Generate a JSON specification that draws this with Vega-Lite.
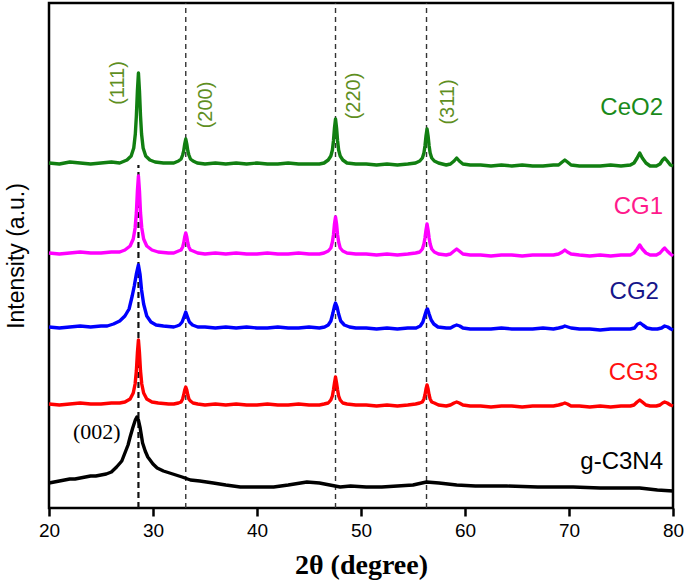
{
"$schema": "https://vega.github.io/schema/vega-lite/v6.json",
"width": 624, "height": 505,
"autosize": {"type": "none"},
"padding": {"left": 49, "top": 3, "right": 12, "bottom": 78},
"config": {"view": {"stroke": "#000", "strokeWidth": 2.5}, "font": "Liberation Sans"},
"datasets": {
"thin": [{"x":33.15,"y0":0,"y1":505},{"x":47.55,"y0":0,"y1":505},{"x":56.3,"y0":0,"y1":505}],
"thick": [{"x":28.6,"y0":0,"y1":343}],
"ceo2": [{"x":20,"y":345},{"x":21,"y":344},{"x":22,"y":346},{"x":23,"y":345},{"x":24,"y":344},{"x":25,"y":345},{"x":26,"y":346},{"x":26.8,"y":345},{"x":27.5,"y":348},{"x":27.9,"y":352},{"x":28.15,"y":360},{"x":28.3,"y":374},{"x":28.4,"y":392},{"x":28.5,"y":417},{"x":28.6,"y":435},{"x":28.7,"y":417},{"x":28.8,"y":392},{"x":28.9,"y":374},{"x":29.05,"y":360},{"x":29.3,"y":352},{"x":29.7,"y":348},{"x":30.2,"y":346},{"x":31,"y":345},{"x":32,"y":345},{"x":32.45,"y":347},{"x":32.7,"y":349},{"x":32.85,"y":353},{"x":32.95,"y":357},{"x":33.05,"y":364},{"x":33.15,"y":369},{"x":33.25,"y":364},{"x":33.35,"y":357},{"x":33.45,"y":353},{"x":33.6,"y":349},{"x":33.85,"y":347},{"x":34.25,"y":345},{"x":35,"y":344},{"x":36,"y":345},{"x":37,"y":344},{"x":38,"y":345},{"x":39,"y":344},{"x":40,"y":345},{"x":41,"y":344},{"x":42,"y":344},{"x":43,"y":345},{"x":44,"y":344},{"x":45,"y":344},{"x":46,"y":344},{"x":46.45,"y":345},{"x":46.85,"y":348},{"x":47.1,"y":352},{"x":47.25,"y":358},{"x":47.35,"y":367},{"x":47.45,"y":380},{"x":47.55,"y":389},{"x":47.65,"y":380},{"x":47.75,"y":367},{"x":47.85,"y":358},{"x":48.0,"y":352},{"x":48.25,"y":348},{"x":48.65,"y":345},{"x":49.5,"y":344},{"x":50.5,"y":344},{"x":51.5,"y":343},{"x":52.5,"y":344},{"x":53.5,"y":343},{"x":54.5,"y":344},{"x":55.25,"y":345},{"x":55.65,"y":347},{"x":55.9,"y":350},{"x":56.05,"y":355},{"x":56.15,"y":362},{"x":56.25,"y":372},{"x":56.35,"y":379},{"x":56.45,"y":372},{"x":56.55,"y":362},{"x":56.65,"y":355},{"x":56.8,"y":350},{"x":57.05,"y":347},{"x":57.45,"y":345},{"x":58.2,"y":343},{"x":58.6,"y":344},{"x":58.95,"y":347},{"x":59.2,"y":350},{"x":59.45,"y":347},{"x":59.8,"y":344},{"x":60.5,"y":343},{"x":61.5,"y":343},{"x":62.5,"y":342},{"x":63.5,"y":343},{"x":64.5,"y":342},{"x":65.5,"y":343},{"x":66.5,"y":342},{"x":67.5,"y":342},{"x":68.5,"y":343},{"x":69.0,"y":343},{"x":69.35,"y":346},{"x":69.6,"y":348},{"x":69.85,"y":346},{"x":70.2,"y":343},{"x":71,"y":342},{"x":72,"y":342},{"x":73,"y":342},{"x":74,"y":343},{"x":75,"y":342},{"x":75.9,"y":343},{"x":76.25,"y":345},{"x":76.55,"y":350},{"x":76.8,"y":355},{"x":77.05,"y":350},{"x":77.4,"y":345},{"x":77.8,"y":342},{"x":78.4,"y":342},{"x":78.75,"y":344},{"x":79.0,"y":348},{"x":79.2,"y":350},{"x":79.45,"y":347},{"x":79.75,"y":343},{"x":80,"y":342}],
"cg1": [{"x":20,"y":255},{"x":21,"y":254},{"x":22,"y":255},{"x":23,"y":256},{"x":24,"y":255},{"x":25,"y":255},{"x":26,"y":256},{"x":26.8,"y":256},{"x":27.3,"y":258},{"x":27.8,"y":262},{"x":28.1,"y":269},{"x":28.28,"y":280},{"x":28.4,"y":295},{"x":28.5,"y":317},{"x":28.6,"y":332},{"x":28.7,"y":317},{"x":28.8,"y":295},{"x":28.92,"y":280},{"x":29.1,"y":269},{"x":29.4,"y":262},{"x":29.9,"y":258},{"x":30.5,"y":256},{"x":31.5,"y":255},{"x":32.0,"y":255},{"x":32.45,"y":257},{"x":32.7,"y":258},{"x":32.85,"y":261},{"x":32.95,"y":265},{"x":33.05,"y":271},{"x":33.15,"y":275},{"x":33.25,"y":271},{"x":33.35,"y":265},{"x":33.45,"y":261},{"x":33.6,"y":258},{"x":33.85,"y":257},{"x":34.3,"y":255},{"x":35,"y":254},{"x":36,"y":255},{"x":37,"y":254},{"x":38,"y":255},{"x":39,"y":254},{"x":40,"y":254},{"x":41,"y":255},{"x":42,"y":254},{"x":43,"y":254},{"x":44,"y":255},{"x":45,"y":254},{"x":46,"y":254},{"x":46.45,"y":255},{"x":46.85,"y":257},{"x":47.1,"y":260},{"x":47.25,"y":266},{"x":47.35,"y":273},{"x":47.45,"y":284},{"x":47.55,"y":291},{"x":47.65,"y":284},{"x":47.75,"y":273},{"x":47.85,"y":266},{"x":48.0,"y":260},{"x":48.25,"y":257},{"x":48.65,"y":255},{"x":49.5,"y":254},{"x":50.5,"y":254},{"x":51.5,"y":253},{"x":52.5,"y":254},{"x":53.5,"y":253},{"x":54.5,"y":254},{"x":55.25,"y":255},{"x":55.65,"y":256},{"x":55.9,"y":259},{"x":56.05,"y":264},{"x":56.15,"y":270},{"x":56.25,"y":278},{"x":56.35,"y":284},{"x":56.45,"y":278},{"x":56.55,"y":270},{"x":56.65,"y":264},{"x":56.8,"y":259},{"x":57.05,"y":256},{"x":57.45,"y":254},{"x":58.2,"y":253},{"x":58.6,"y":254},{"x":58.95,"y":257},{"x":59.2,"y":259},{"x":59.45,"y":257},{"x":59.8,"y":254},{"x":60.5,"y":253},{"x":61.5,"y":253},{"x":62.5,"y":252},{"x":63.5,"y":253},{"x":64.5,"y":253},{"x":65.5,"y":252},{"x":66.5,"y":253},{"x":67.5,"y":253},{"x":68.5,"y":253},{"x":69.0,"y":254},{"x":69.35,"y":256},{"x":69.6,"y":258},{"x":69.85,"y":256},{"x":70.2,"y":254},{"x":71,"y":253},{"x":72,"y":252},{"x":73,"y":253},{"x":74,"y":252},{"x":75,"y":253},{"x":75.9,"y":253},{"x":76.25,"y":255},{"x":76.55,"y":259},{"x":76.8,"y":263},{"x":77.05,"y":259},{"x":77.4,"y":255},{"x":77.8,"y":253},{"x":78.4,"y":253},{"x":78.75,"y":255},{"x":79.0,"y":258},{"x":79.2,"y":260},{"x":79.45,"y":257},{"x":79.75,"y":254},{"x":80,"y":252}],
"cg2": [{"x":20,"y":181},{"x":21,"y":180},{"x":22,"y":181},{"x":23,"y":182},{"x":24,"y":181},{"x":25,"y":182},{"x":25.6,"y":182},{"x":26.2,"y":184},{"x":26.8,"y":187},{"x":27.3,"y":192},{"x":27.7,"y":199},{"x":28.0,"y":212},{"x":28.2,"y":222},{"x":28.4,"y":234},{"x":28.6,"y":243},{"x":28.75,"y":234},{"x":28.9,"y":218},{"x":29.1,"y":204},{"x":29.4,"y":192},{"x":29.8,"y":186},{"x":30.3,"y":183},{"x":31,"y":182},{"x":32,"y":181},{"x":32.3,"y":182},{"x":32.55,"y":183},{"x":32.8,"y":186},{"x":32.98,"y":191},{"x":33.15,"y":196},{"x":33.32,"y":191},{"x":33.5,"y":186},{"x":33.8,"y":183},{"x":34.3,"y":181},{"x":35,"y":181},{"x":36,"y":180},{"x":37,"y":181},{"x":38,"y":180},{"x":39,"y":181},{"x":40,"y":180},{"x":41,"y":180},{"x":42,"y":181},{"x":43,"y":180},{"x":44,"y":180},{"x":45,"y":181},{"x":46,"y":180},{"x":46.5,"y":181},{"x":46.85,"y":183},{"x":47.1,"y":187},{"x":47.3,"y":195},{"x":47.45,"y":202},{"x":47.55,"y":205},{"x":47.7,"y":201},{"x":47.85,"y":194},{"x":48.05,"y":187},{"x":48.4,"y":183},{"x":48.9,"y":181},{"x":49.5,"y":180},{"x":50.5,"y":180},{"x":51.5,"y":179},{"x":52.5,"y":180},{"x":53.5,"y":179},{"x":54.5,"y":180},{"x":55.3,"y":180},{"x":55.7,"y":182},{"x":55.95,"y":186},{"x":56.15,"y":193},{"x":56.3,"y":198},{"x":56.4,"y":199},{"x":56.55,"y":194},{"x":56.75,"y":188},{"x":57.0,"y":184},{"x":57.4,"y":181},{"x":58.2,"y":180},{"x":58.6,"y":180},{"x":58.95,"y":182},{"x":59.2,"y":183},{"x":59.5,"y":182},{"x":59.8,"y":180},{"x":60.5,"y":179},{"x":61.5,"y":179},{"x":62.5,"y":179},{"x":63.5,"y":180},{"x":64.5,"y":179},{"x":65.5,"y":179},{"x":66.5,"y":179},{"x":67.5,"y":180},{"x":68.5,"y":179},{"x":69.0,"y":180},{"x":69.4,"y":181},{"x":69.6,"y":182},{"x":69.9,"y":181},{"x":70.2,"y":180},{"x":71,"y":179},{"x":72,"y":179},{"x":73,"y":178},{"x":74,"y":179},{"x":75,"y":179},{"x":75.9,"y":179},{"x":76.3,"y":180},{"x":76.6,"y":184},{"x":76.85,"y":185},{"x":77.1,"y":183},{"x":77.5,"y":180},{"x":78,"y":179},{"x":78.5,"y":179},{"x":78.9,"y":180},{"x":79.2,"y":182},{"x":79.5,"y":181},{"x":79.8,"y":179},{"x":80,"y":178}],
"cg3": [{"x":20,"y":104},{"x":21,"y":103},{"x":22,"y":104},{"x":23,"y":105},{"x":24,"y":104},{"x":25,"y":104},{"x":26,"y":105},{"x":26.8,"y":105},{"x":27.3,"y":106},{"x":27.8,"y":109},{"x":28.1,"y":115},{"x":28.28,"y":124},{"x":28.4,"y":137},{"x":28.5,"y":155},{"x":28.6,"y":168},{"x":28.7,"y":155},{"x":28.8,"y":137},{"x":28.92,"y":124},{"x":29.1,"y":115},{"x":29.4,"y":109},{"x":29.9,"y":106},{"x":30.5,"y":105},{"x":31.5,"y":104},{"x":32.0,"y":104},{"x":32.45,"y":105},{"x":32.7,"y":106},{"x":32.85,"y":109},{"x":32.95,"y":113},{"x":33.05,"y":118},{"x":33.15,"y":121},{"x":33.25,"y":118},{"x":33.35,"y":113},{"x":33.45,"y":109},{"x":33.6,"y":107},{"x":33.85,"y":105},{"x":34.3,"y":104},{"x":35,"y":103},{"x":36,"y":104},{"x":37,"y":103},{"x":38,"y":104},{"x":39,"y":103},{"x":40,"y":103},{"x":41,"y":104},{"x":42,"y":103},{"x":43,"y":103},{"x":44,"y":104},{"x":45,"y":103},{"x":46,"y":103},{"x":46.45,"y":104},{"x":46.85,"y":105},{"x":47.1,"y":108},{"x":47.25,"y":112},{"x":47.35,"y":118},{"x":47.45,"y":125},{"x":47.55,"y":131},{"x":47.65,"y":125},{"x":47.75,"y":118},{"x":47.85,"y":112},{"x":48.0,"y":108},{"x":48.25,"y":105},{"x":48.65,"y":104},{"x":49.5,"y":103},{"x":50.5,"y":103},{"x":51.5,"y":102},{"x":52.5,"y":103},{"x":53.5,"y":102},{"x":54.5,"y":103},{"x":55.25,"y":104},{"x":55.65,"y":105},{"x":55.9,"y":106},{"x":56.05,"y":109},{"x":56.15,"y":113},{"x":56.25,"y":119},{"x":56.35,"y":123},{"x":56.45,"y":119},{"x":56.55,"y":113},{"x":56.65,"y":109},{"x":56.8,"y":106},{"x":57.05,"y":105},{"x":57.45,"y":103},{"x":58.2,"y":102},{"x":58.6,"y":103},{"x":58.95,"y":105},{"x":59.2,"y":106},{"x":59.45,"y":105},{"x":59.8,"y":103},{"x":60.5,"y":102},{"x":61.5,"y":102},{"x":62.5,"y":101},{"x":63.5,"y":102},{"x":64.5,"y":102},{"x":65.5,"y":101},{"x":66.5,"y":102},{"x":67.5,"y":102},{"x":68.5,"y":102},{"x":69.0,"y":103},{"x":69.35,"y":104},{"x":69.6,"y":105},{"x":69.85,"y":104},{"x":70.2,"y":102},{"x":71,"y":102},{"x":72,"y":101},{"x":73,"y":102},{"x":74,"y":101},{"x":75,"y":102},{"x":75.9,"y":102},{"x":76.25,"y":103},{"x":76.55,"y":106},{"x":76.8,"y":108},{"x":77.05,"y":106},{"x":77.4,"y":103},{"x":77.8,"y":102},{"x":78.4,"y":102},{"x":78.75,"y":103},{"x":79.0,"y":105},{"x":79.2,"y":106},{"x":79.45,"y":105},{"x":79.75,"y":103},{"x":80,"y":102}],
"gcn": [{"x":20,"y":25},{"x":20.5,"y":26},{"x":21,"y":27},{"x":21.5,"y":28},{"x":22,"y":29},{"x":22.5,"y":29},{"x":23,"y":30},{"x":23.5,"y":31},{"x":24,"y":32},{"x":24.5,"y":32},{"x":25,"y":33},{"x":25.5,"y":34},{"x":26,"y":36},{"x":26.5,"y":41},{"x":27,"y":47},{"x":27.3,"y":55},{"x":27.6,"y":63},{"x":27.8,"y":71},{"x":28.05,"y":80},{"x":28.3,"y":88},{"x":28.45,"y":91},{"x":28.6,"y":88},{"x":28.75,"y":81},{"x":29.0,"y":65},{"x":29.25,"y":57},{"x":29.5,"y":51},{"x":30.0,"y":44},{"x":30.4,"y":40},{"x":31,"y":37},{"x":31.9,"y":34},{"x":32.8,"y":31},{"x":33.6,"y":28},{"x":34.5,"y":27},{"x":35.8,"y":25},{"x":37,"y":23},{"x":38.4,"y":21},{"x":40,"y":21},{"x":41.6,"y":21},{"x":43,"y":23},{"x":44.8,"y":26},{"x":46,"y":25},{"x":47,"y":23},{"x":48,"y":21},{"x":49,"y":22},{"x":50.5,"y":21},{"x":52,"y":21},{"x":53.5,"y":22},{"x":55,"y":23},{"x":56.3,"y":26},{"x":57.5,"y":25},{"x":59.2,"y":23},{"x":61,"y":22},{"x":64,"y":22},{"x":67,"y":21},{"x":70.4,"y":21},{"x":73,"y":20},{"x":76.8,"y":20},{"x":78.5,"y":18},{"x":80,"y":17}],
"labels": [{"lab":"CeO2","x":79.04,"y":400},{"lab":"CG1","x":79.04,"y":301},{"lab":"CG2","x":78.65,"y":216},{"lab":"CG3","x":78.56,"y":135},{"lab":"g-C3N4","x":79.04,"y":46}],
"hkl": [{"t":"(111)","x":26.63,"y":425},{"t":"(200)","x":35.1,"y":403},{"t":"(220)","x":49.33,"y":412},{"t":"(311)","x":58.37,"y":406}],
"gl": [{"t":"(002)","x":24.6,"y":76}]
},
"layer": [
{"data": {"name": "thin"}, "mark": {"type": "rule", "strokeDash": [5, 4], "strokeWidth": 1.4, "color": "#333333"},
 "encoding": {"x": {"field": "x", "type": "quantitative", "scale": {"domain": [20, 80], "nice": false, "zero": false},
   "axis": {"values": [20,30,40,50,60,70,80], "title": "2θ (degree)", "titleFont": "Liberation Serif", "titleFontWeight": "bold", "titleFontSize": 28, "titleColor": "#000", "titlePadding": 11, "labelFontSize": 19, "labelColor": "#000", "labelPadding": 5, "tickSize": 8, "tickWidth": 2.5, "tickColor": "#000", "domain": false, "grid": false, "labelFlush": false}},
  "y": {"field": "y0", "type": "quantitative", "scale": {"domain": [0, 505], "nice": false},
   "axis": {"title": "Intensity (a.u.)", "titleFontSize": 23, "titleFontWeight": "normal", "titleColor": "#000", "titlePadding": 21, "labels": false, "ticks": false, "domain": false, "grid": false}},
  "y2": {"field": "y1"}}},
{"data": {"name": "thick"}, "mark": {"type": "rule", "strokeDash": [6, 4], "strokeWidth": 2.2, "color": "#111111"},
 "encoding": {"x": {"field": "x", "type": "quantitative"}, "y": {"field": "y0", "type": "quantitative"}, "y2": {"field": "y1"}}},
{"data": {"name": "ceo2"}, "mark": {"type": "line", "color": "#117f11", "strokeWidth": 3.4, "strokeJoin": "round"},
 "encoding": {"x": {"field": "x", "type": "quantitative"}, "y": {"field": "y", "type": "quantitative"}}},
{"data": {"name": "cg1"}, "mark": {"type": "line", "color": "#ff00ff", "strokeWidth": 3.4, "strokeJoin": "round"},
 "encoding": {"x": {"field": "x", "type": "quantitative"}, "y": {"field": "y", "type": "quantitative"}}},
{"data": {"name": "cg2"}, "mark": {"type": "line", "color": "#0000ff", "strokeWidth": 3.4, "strokeJoin": "round"},
 "encoding": {"x": {"field": "x", "type": "quantitative"}, "y": {"field": "y", "type": "quantitative"}}},
{"data": {"name": "cg3"}, "mark": {"type": "line", "color": "#ff0000", "strokeWidth": 3.4, "strokeJoin": "round"},
 "encoding": {"x": {"field": "x", "type": "quantitative"}, "y": {"field": "y", "type": "quantitative"}}},
{"data": {"name": "gcn"}, "mark": {"type": "line", "color": "#000000", "strokeWidth": 3.4, "strokeJoin": "round"},
 "encoding": {"x": {"field": "x", "type": "quantitative"}, "y": {"field": "y", "type": "quantitative"}}},
{"data": {"name": "labels"}, "mark": {"type": "text", "align": "right", "baseline": "middle", "fontSize": 24},
 "encoding": {"x": {"field": "x", "type": "quantitative"}, "y": {"field": "y", "type": "quantitative"}, "text": {"field": "lab"},
  "color": {"field": "lab", "type": "nominal", "scale": {"domain": ["CeO2","CG1","CG2","CG3","g-C3N4"], "range": ["#1a8a1a","#ff1a8c","#16168a","#ff1010","#000000"]}, "legend": null}}},
{"data": {"name": "hkl"}, "mark": {"type": "text", "align": "center", "baseline": "middle", "angle": 270, "fontSize": 20, "color": "#5f8f1f"},
 "encoding": {"x": {"field": "x", "type": "quantitative"}, "y": {"field": "y", "type": "quantitative"}, "text": {"field": "t"}}},
{"data": {"name": "gl"}, "mark": {"type": "text", "align": "center", "baseline": "middle", "fontSize": 22, "font": "Liberation Serif", "color": "#000"},
 "encoding": {"x": {"field": "x", "type": "quantitative"}, "y": {"field": "y", "type": "quantitative"}, "text": {"field": "t"}}}
]
}
